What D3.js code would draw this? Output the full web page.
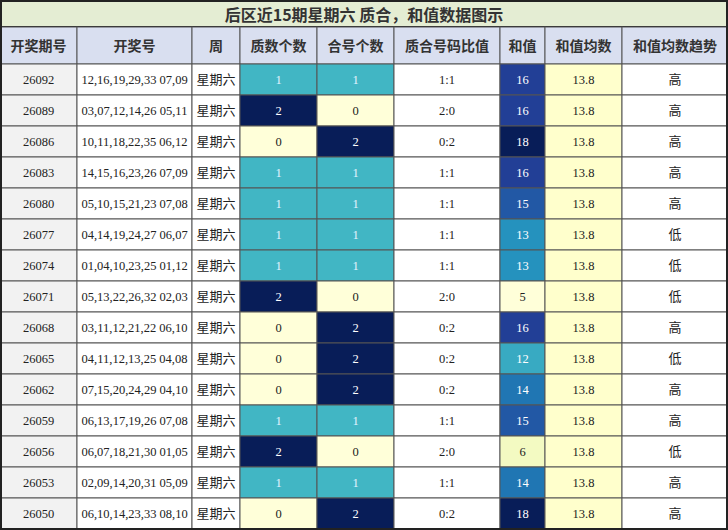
<!DOCTYPE html>
<html><head><meta charset="utf-8">
<script src="https://cdn.jsdelivr.net/npm/d3@7"></script>
<style>body{margin:0;background:#fff}</style>
</head><body>
<script>
const title = "后区近15期星期六 质合，和值数据图示";
const headers = ["开奖期号","开奖号","周","质数个数","合号个数","质合号码比值","和值","和值均数","和值均数趋势"];
const issues = ["26092","26089","26086","26083","26080","26077","26074","26071","26068","26065","26062","26059","26056","26053","26050"];
const draws = ["12,16,19,29,33 07,09","03,07,12,14,26 05,11","10,11,18,22,35 06,12","14,15,16,23,26 07,09","05,10,15,21,23 07,08","04,14,19,24,27 06,07","01,04,10,23,25 01,12","05,13,22,26,32 02,03","03,11,12,21,22 06,10","04,11,12,13,25 04,08","07,15,20,24,29 04,10","06,13,17,19,26 07,08","06,07,18,21,30 01,05","02,09,14,20,31 05,09","06,10,14,23,33 08,10"];
const primes = [1,2,0,1,1,1,1,2,0,0,0,1,2,1,0];
const composites = [1,0,2,1,1,1,1,0,2,2,2,1,0,1,2];
const sums = [16,16,18,16,15,13,13,5,16,12,14,15,6,14,18];
const avg = 13.8;
const trend = ["高","高","高","高","高","低","低","低","高","低","高","高","低","高","高"];

const W = 728, H = 530;
const colX = [0,77,192,240,317,394,500,545,622,728];
const titleH = 27, headH = 37, rowH = 31;
const svg = d3.select("body").append("svg").attr("width", W).attr("height", H);

const countColor = d3.scaleOrdinal().domain([0,1,2]).range(["#ffffd9","#41b6c4","#081d58"]);
const countText = d3.scaleOrdinal().domain([0,1,2]).range(["#222","#e6f4ff","#fff"]);
const sumColor = d3.scaleSequential(d3.interpolateYlGnBu).domain([5,18]);

// title
svg.append("rect").attr("x",1).attr("y",1).attr("width",W-2).attr("height",titleH-1)
  .attr("fill","#e4edd3").attr("stroke","#222").attr("stroke-width",2);
svg.append("text").attr("x",W/2).attr("y",21).attr("text-anchor","middle")
  .attr("font-family","Noto Sans CJK SC").attr("font-weight","bold").attr("font-size",16)
  .attr("fill","#333").text(title);

// header
headers.forEach((h,i) => {
  svg.append("rect").attr("x",colX[i]).attr("y",titleH).attr("width",colX[i+1]-colX[i]).attr("height",headH)
    .attr("fill","#d9dff0").attr("stroke","#555").attr("stroke-width",1);
  svg.append("text").attr("x",(colX[i]+colX[i+1])/2).attr("y",titleH+headH/2+5).attr("text-anchor","middle")
    .attr("font-family","Noto Sans CJK SC").attr("font-weight","bold").attr("font-size",14)
    .attr("fill","#333").text(h);
});

issues.forEach((iss,r) => {
  const y = titleH + headH + r*rowH;
  const cells = [
    {t:iss, bg:"#f2f2f2", fc:"#222"},
    {t:draws[r], bg:"#fff", fc:"#222"},
    {t:"星期六", bg:"#fff", fc:"#222", cjk:true},
    {t:primes[r], bg:countColor(primes[r]), fc:countText(primes[r])},
    {t:composites[r], bg:countColor(composites[r]), fc:countText(composites[r])},
    {t:primes[r]+":"+composites[r], bg:"#fff", fc:"#222"},
    {t:sums[r], bg:sumColor(sums[r]), fc:sums[r]>=9?"#fff":"#222"},
    {t:avg.toFixed(1), bg:"#ffffcc", fc:"#222"},
    {t:trend[r], bg:"#fff", fc:"#222", cjk:true}
  ];
  cells.forEach((c,i) => {
    svg.append("rect").attr("x",colX[i]).attr("y",y).attr("width",colX[i+1]-colX[i]).attr("height",rowH)
      .attr("fill",c.bg).attr("stroke","#555").attr("stroke-width",1);
    svg.append("text").attr("x",(colX[i]+colX[i+1])/2).attr("y",y+rowH/2+4.5).attr("text-anchor","middle")
      .attr("font-family", c.cjk ? "Noto Sans CJK SC" : "Liberation Serif")
      .attr("font-size", c.cjk ? 13 : 12.5).attr("fill",c.fc).text(c.t);
  });
});
svg.append("rect").attr("x",1).attr("y",1).attr("width",W-2).attr("height",H-2)
  .attr("fill","none").attr("stroke","#222").attr("stroke-width",2);
</script>
</body></html>
